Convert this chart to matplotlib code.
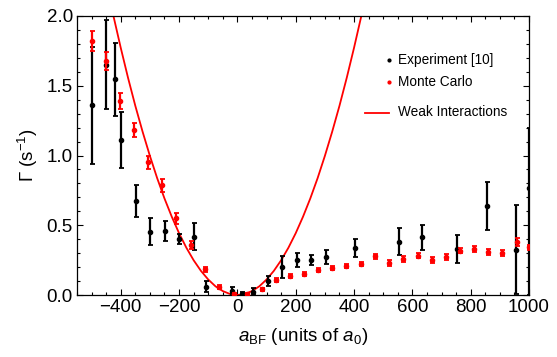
import matplotlib
matplotlib.use("Agg")
import matplotlib.pyplot as plt
from matplotlib.ticker import MultipleLocator

plt.rcParams['font.family'] = ['Liberation Sans', 'DejaVu Sans']
plt.rcParams['mathtext.fontset'] = 'custom'
plt.rcParams['mathtext.rm'] = 'Liberation Sans'
plt.rcParams['mathtext.it'] = 'Liberation Sans:italic'

# Monte Carlo
mc_x = [-499, -451, -402, -354, -305, -257, -209, -160, -111, -62, -13, 34, 84, 133,
        180, 229, 277, 326, 374, 424, 473, 521, 569, 618, 666, 714, 762, 812, 861,
        909, 959, 1000]
mc_y = [1.82, 1.68, 1.39, 1.18, 0.95, 0.785, 0.55, 0.36, 0.184, 0.06, 0.007, 0.007,
        0.04, 0.107, 0.135, 0.148, 0.177, 0.194, 0.208, 0.22, 0.276, 0.229, 0.258,
        0.282, 0.249, 0.272, 0.318, 0.33, 0.308, 0.299, 0.378, 0.342]
mc_err = [0.07, 0.065, 0.06, 0.05, 0.05, 0.045, 0.04, 0.03, 0.02, 0.015, 0.01, 0.01,
          0.012, 0.015, 0.015, 0.015, 0.015, 0.015, 0.015, 0.015, 0.02, 0.02, 0.02,
          0.02, 0.02, 0.02, 0.02, 0.02, 0.02, 0.02, 0.03, 0.02]

# Experiment [10]
ex_x = [-498, -449, -419, -400, -349, -299, -248, -199, -148, -109, -18, 16, 52, 104,
        153, 204, 254, 304, 404, 555, 634, 754, 856, 956, 1000]
ex_y = [1.36, 1.65, 1.545, 1.113, 0.676, 0.454, 0.461, 0.404, 0.418, 0.06, 0.03, 0.01,
        0.025, 0.102, 0.2, 0.254, 0.251, 0.27, 0.336, 0.383, 0.413, 0.332, 0.638,
        0.325, 0.765]
ex_err_lo = [0.42, 0.32, 0.26, 0.2, 0.115, 0.097, 0.073, 0.035, 0.097, 0.04, 0.025,
             0.01, 0.025, 0.035, 0.077, 0.05, 0.037, 0.05, 0.065, 0.094, 0.088, 0.1,
             0.175, 0.32, 0.765]
ex_err_hi = [0.42, 0.32, 0.26, 0.2, 0.115, 0.097, 0.073, 0.035, 0.097, 0.04, 0.025,
             0.01, 0.025, 0.035, 0.077, 0.05, 0.037, 0.05, 0.065, 0.094, 0.088, 0.1,
             0.175, 0.32, 0.43]

# Weak interactions curve
wk_x = [-450, -425, -400, -375, -350, -325, -300, -275, -250, -225, -200, -175, -150,
        -125, -100, -75, -50, -25, 0, 25, 50, 75, 100, 125, 150, 175, 200, 225, 250,
        275, 300, 325, 350, 375, 400, 425, 450]
wk_y = [2.242, 2.0, 1.772, 1.557, 1.356, 1.170, 0.997, 0.837, 0.692, 0.561, 0.443,
        0.339, 0.249, 0.173, 0.111, 0.062, 0.028, 0.007, 0.0, 0.007, 0.028, 0.062,
        0.111, 0.173, 0.249, 0.339, 0.443, 0.561, 0.692, 0.837, 0.997, 1.170, 1.356,
        1.557, 1.772, 2.0, 2.242]

legend_labels = ["Experiment [10]", "Monte Carlo", "Weak Interactions"]

fig = plt.figure(figsize=(5.57, 3.57), dpi=100)
ax = fig.add_axes([77/557, 1-295/357, (529-77)/557, (295-16)/357])

ax.plot(wk_x, wk_y, color='#ff0000', lw=1.3, zorder=2)
ax.errorbar(ex_x, ex_y, yerr=[ex_err_lo, ex_err_hi], fmt='o', color='black',
            ms=3.0, elinewidth=1.6, capsize=1.8, capthick=1.3, zorder=3)
ax.errorbar(mc_x, mc_y, yerr=mc_err, fmt='o', color='#ff0000',
            ms=3.0, elinewidth=1.6, capsize=1.8, capthick=1.3, zorder=4)

ax.set_xlim(-550, 1000)
ax.set_ylim(0, 2.0)
ax.xaxis.set_major_locator(MultipleLocator(200))
ax.xaxis.set_minor_locator(MultipleLocator(50))
ax.yaxis.set_major_locator(MultipleLocator(0.5))
ax.yaxis.set_minor_locator(MultipleLocator(0.1))
ax.yaxis.set_major_formatter(plt.FuncFormatter(lambda v, p: f"{v:.1f}"))
ax.tick_params(which='both', direction='in', top=True, right=True, width=0.8,
               labelsize=13.5, pad=3)
ax.tick_params(which='major', length=4)
ax.tick_params(which='minor', length=2.2)
for s in ax.spines.values():
    s.set_linewidth(0.9)

ax.set_xlabel(r"$a_{\mathrm{BF}}$ (units of $a_0$)", fontsize=13.5, labelpad=7)
ax.set_ylabel(r"$\Gamma$ (s$^{-1}$)", fontsize=13.5, labelpad=5)

# legend drawn manually to mimic layout
def ax_xy(px, py):
    return ((px - 77) / (529 - 77), (295 - py) / (295 - 16))

lx, ly = ax_xy(389, 60)
ax.plot([lx], [ly], 'o', color='black', ms=2.0, transform=ax.transAxes, clip_on=False)
ax.text(*ax_xy(398, 60), legend_labels[0], transform=ax.transAxes, va='center',
        ha='left', fontsize=9.8)
lx, ly = ax_xy(389, 81.5)
ax.plot([lx], [ly], 'o', color='#ff0000', ms=2.0, transform=ax.transAxes, clip_on=False)
ax.text(*ax_xy(398, 81.5), legend_labels[1], transform=ax.transAxes, va='center',
        ha='left', fontsize=9.8)
x0, yl = ax_xy(365, 113)
x1, _ = ax_xy(389, 113)
ax.plot([x0, x1], [yl, yl], color='#ff0000', lw=1.3, transform=ax.transAxes)
ax.text(*ax_xy(398, 112), legend_labels[2], transform=ax.transAxes, va='center',
        ha='left', fontsize=9.8)

fig.savefig("out.png", dpi=100)
